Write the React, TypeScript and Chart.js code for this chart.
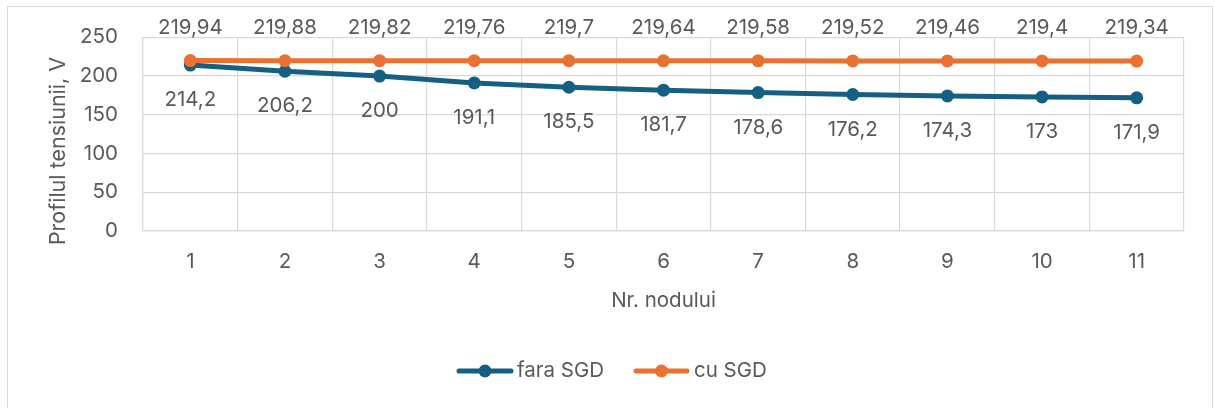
import React, { useEffect, useRef } from "react";
import { Chart, registerables } from "chart.js";

Chart.register(...registerables);

const categories = ["1", "2", "3", "4", "5", "6", "7", "8", "9", "10", "11"];
const faraSGD = [214.2, 206.2, 200, 191.1, 185.5, 181.7, 178.6, 176.2, 174.3, 173, 171.9];
const cuSGD = [219.94, 219.88, 219.82, 219.76, 219.7, 219.64, 219.58, 219.52, 219.46, 219.4, 219.34];
const seriesNames = ["fara SGD", "cu SGD"];
const yTitle = "Profilul tensiunii, V";
const xTitle = "Nr. nodului";

const BLUE = "#156082";
const ORANGE = "#E97132";
const TEXT = "#595959";
const GRID = "#D9D9D9";
const FONT = "Inter";
const FS = 20.5;

const fmt = (v: number) => String(v).replace(".", ",");

const customPlugin = {
  id: "custom",
  beforeDraw(chart: any) {
    const ctx = chart.ctx;
    ctx.save();
    ctx.strokeStyle = GRID;
    ctx.lineWidth = 1;
    ctx.strokeRect(7.5, 6.5, 1205, 430);
    ctx.restore();
  },
  afterDatasetsDraw(chart: any) {
    const ctx = chart.ctx;
    const area = chart.chartArea;
    ctx.save();
    ctx.font = `${FS}px ${FONT}`;
    ctx.fillStyle = TEXT;
    ctx.textAlign = "center";
    ctx.textBaseline = "middle";
    // data labels
    chart.data.datasets.forEach((ds: any, i: number) => {
      const meta = chart.getDatasetMeta(i);
      meta.data.forEach((pt: any, j: number) => {
        const v = ds.data[j];
        const y = ds.labelPos === "above" ? pt.y - 33 : pt.y + 35;
        ctx.fillText(fmt(v), pt.x, y);
      });
    });
    // x title
    ctx.fillText(xTitle, (area.left + area.right) / 2, 301);
    // y title
    ctx.save();
    ctx.translate(59, 151);
    ctx.rotate(-Math.PI / 2);
    ctx.font = `${FS + 1}px ${FONT}`;
    ctx.fillText(yTitle, 0, 0);
    ctx.restore();
    // legend
    const items = [
      { name: seriesNames[0], color: BLUE, x0: 457, x1: 513, tx: 517 },
      { name: seriesNames[1], color: ORANGE, x0: 634, x1: 689, tx: 694 },
    ];
    const ly = 371;
    items.forEach((it) => {
      ctx.strokeStyle = it.color;
      ctx.lineWidth = 5;
      ctx.lineCap = "round";
      ctx.beginPath();
      ctx.moveTo(it.x0 + 2, ly);
      ctx.lineTo(it.x1 - 2, ly);
      ctx.stroke();
      ctx.fillStyle = it.color;
      ctx.beginPath();
      ctx.arc((it.x0 + it.x1) / 2, ly, 6.5, 0, Math.PI * 2);
      ctx.fill();
      ctx.fillStyle = TEXT;
      ctx.textAlign = "left";
      ctx.fillText(it.name, it.tx, ly);
    });
    ctx.restore();
  },
};

export default function App() {
  const ref = useRef<HTMLCanvasElement | null>(null);
  useEffect(() => {
    if (!ref.current) return;
    const chart = new Chart(ref.current, {
      type: "line",
      data: {
        labels: categories,
        datasets: [
          {
            label: seriesNames[0],
            data: faraSGD,
            borderColor: BLUE,
            backgroundColor: BLUE,
            borderWidth: 5,
            pointRadius: 6.5,
            pointBorderWidth: 0,
            pointBackgroundColor: BLUE,
            order: 1,
            clip: false,
            labelPos: "below",
          } as any,
          {
            label: seriesNames[1],
            data: cuSGD,
            borderColor: ORANGE,
            backgroundColor: ORANGE,
            borderWidth: 5,
            pointRadius: 6.5,
            pointBorderWidth: 0,
            pointBackgroundColor: ORANGE,
            order: 0,
            clip: false,
            labelPos: "above",
          } as any,
        ],
      },
      options: {
        animation: false,
        responsive: false,
        events: [],
        layout: { padding: { left: 0, right: 30, top: 36, bottom: 87 } },
        plugins: { legend: { display: false }, tooltip: { enabled: false } },
        scales: {
          x: {
            offset: true,
            grid: { offset: true, color: GRID, drawTicks: false, lineWidth: 1.2 },
            border: { color: GRID, width: 1.2 },
            ticks: { color: TEXT, font: { family: FONT, size: FS }, padding: 19, maxRotation: 0 },
            afterFit: (s: any) => { s.height = 90; },
          },
          y: {
            min: 0,
            max: 250,
            ticks: { stepSize: 50, color: TEXT, font: { family: FONT, size: FS }, padding: 25 },
            grid: { color: GRID, drawTicks: false, lineWidth: 1.2 },
            border: { color: GRID, width: 1.2 },
            afterFit: (s: any) => { s.width = 143; },
          },
        },
      },
      plugins: [customPlugin],
    });
    return () => chart.destroy();
  }, []);
  return (
    <div style={{ position: "absolute", left: 0, top: 0, width: 1214, height: 408, background: "#fff" }}>
      <canvas ref={ref} width={1214} height={408} style={{ display: "block" }} />
    </div>
  );
}
